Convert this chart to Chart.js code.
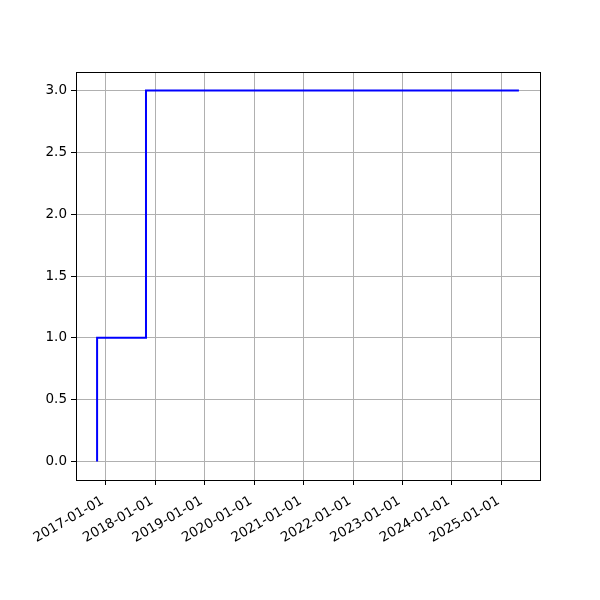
<!DOCTYPE html>
<html>
<head>
<meta charset="utf-8">
<script src="https://cdn.jsdelivr.net/npm/chart.js@4/dist/chart.umd.min.js"></script>
<style>
html,body{margin:0;padding:0;background:#fff;}
#wrap{width:600px;height:600px;}
</style>
</head>
<body>
<div id="wrap"><canvas id="c" width="600" height="600"></canvas></div>
<script>
const dates = ['2016-10-29', '2016-10-29', '2017-10-25', '2025-05-09'];
const values = [0, 1, 3, 3];
const tickYears = [2017, 2018, 2019, 2020, 2021, 2022, 2023, 2024, 2025];
const yTicks = [0, 0.5, 1, 1.5, 2, 2.5, 3];

const toMs = s => Date.parse(s + 'T00:00:00Z');
const pts = dates.map((d, i) => ({x: toMs(d), y: values[i]}));
const xs = pts.map(p => p.x);
const xMinD = Math.min(...xs), xMaxD = Math.max(...xs);
const xm = (xMaxD - xMinD) * 0.05;
const yMinD = Math.min(...values), yMaxD = Math.max(...values);
const ym = (yMaxD - yMinD) * 0.05;

const frame = {
  id: 'frame',
  afterDraw(chart) {
    const a = chart.chartArea, ctx = chart.ctx;
    ctx.save();
    ctx.strokeStyle = '#000';
    ctx.lineWidth = 1;
    ctx.strokeRect(Math.round(a.left) + 0.5, Math.round(a.top) + 0.5,
      Math.round(a.right - a.left), Math.round(a.bottom - a.top));
    ctx.restore();
  }
};

const font = {family: '"DejaVu Sans", sans-serif', size: 13.5};

new Chart(document.getElementById('c'), {
  type: 'line',
  data: {
    datasets: [{
      data: pts,
      borderColor: '#0000ff',
      borderWidth: 2,
      pointRadius: 0,
      stepped: 'before',
      fill: false
    }]
  },
  options: {
    responsive: false,
    animation: false,
    devicePixelRatio: 1,
    layout: {padding: {left: 0, right: 60, top: 72, bottom: 0}},
    plugins: {legend: {display: false}, tooltip: {enabled: false}},
    scales: {
      x: {
        type: 'linear',
        min: xMinD - xm,
        max: xMaxD + xm,
        afterBuildTicks: s => { s.ticks = tickYears.map(y => ({value: Date.UTC(y, 0, 1)})); },
        afterFit: s => { s.height = 120; },
        ticks: {
          color: '#000',
          font: font,
          minRotation: 30,
          maxRotation: 30,
          autoSkip: false,
          padding: 8,
          labelOffset: -3,
          callback: v => new Date(v).toISOString().slice(0, 10)
        },
        grid: {color: '#b0b0b0', lineWidth: 1, tickLength: 5, tickColor: '#000', drawTicks: true},
        border: {display: true, color: '#000', width: 1}
      },
      y: {
        type: 'linear',
        min: yMinD - ym,
        max: yMaxD + ym,
        afterBuildTicks: s => { s.ticks = yTicks.map(v => ({value: v})); },
        afterFit: s => { s.width = 76; },
        ticks: {
          color: '#000',
          font: font,
          padding: 4,
          callback: v => v.toFixed(1)
        },
        grid: {color: '#b0b0b0', lineWidth: 1, tickLength: 5, tickColor: '#000', drawTicks: true},
        border: {display: true, color: '#000', width: 1}
      }
    }
  },
  plugins: [frame]
});
</script>
</body>
</html>
